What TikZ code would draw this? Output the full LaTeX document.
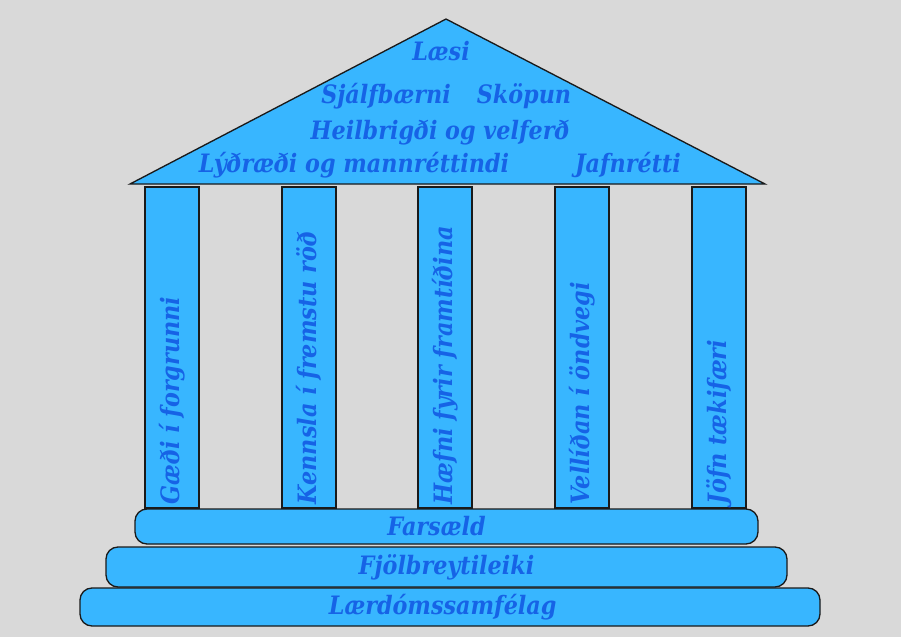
\documentclass[tikz,border=0pt]{standalone}
\usepackage{fontspec}
\setmainfont{DejaVu Serif}[FakeStretch=0.88]
\definecolor{bgc}{HTML}{D9D9D9}
\definecolor{fillc}{HTML}{38B6FF}
\definecolor{txtc}{HTML}{1663E6}
\definecolor{linec}{HTML}{1A1A1A}
\begin{document}
\begin{tikzpicture}[x=0.75pt,y=-0.75pt,
  every node/.style={font=\fontsize{19}{22}\selectfont\bfseries\itshape, text=txtc},
  roof/.style={draw=linec, line width=1pt, fill=fillc, line join=miter},
  col/.style={draw=linec, line width=1pt, fill=fillc, minimum width=40.5pt, minimum height=240.75pt, inner sep=0pt},
  coltext/.style={rotate=90, anchor=west, inner sep=0pt},
  stepbox/.style={draw=linec, line width=1pt, fill=fillc, rounded corners=9pt, inner sep=0pt},
  rooftext/.style={anchor=base, inner sep=0pt}]
\fill[bgc] (0,0) rectangle (901,637);
\useasboundingbox (0,0) rectangle (901,637);
% roof
\coordinate (apex) at (446,19);
\coordinate (bl) at (130,184);
\coordinate (br) at (765,184);
\draw[roof] (apex) -- (br) -- (bl) -- cycle;
\node[rooftext] (t1) at (441,60) {Læsi};
\node[rooftext] (t2) at (386,103) {Sjálfbærni};
\node[rooftext] (t3) at (524,103) {Sköpun};
\node[rooftext] (t4) at (440,139) {Heilbrigði og velferð};
\node[rooftext] (t5) at (354,172) {Lýðræði og mannréttindi};
\node[rooftext] (t6) at (628,172) {Jafnrétti};
% columns
\node[col] (c1) at (172,347.5) {};
\node[col] (c2) at (309,347.5) {};
\node[col] (c3) at (445,347.5) {};
\node[col] (c4) at (582,347.5) {};
\node[col] (c5) at (719,347.5) {};
\node[coltext] (ct1) at ([yshift=3pt]c1.south) {Gæði í forgrunni};
\node[coltext] (ct2) at ([yshift=3pt]c2.south) {Kennsla í fremstu röð};
\node[coltext] (ct3) at ([yshift=3pt]c3.south) {Hæfni fyrir framtíðina};
\node[coltext] (ct4) at ([yshift=3pt]c4.south) {Vellíðan í öndvegi};
\node[coltext] (ct5) at ([yshift=3pt]c5.south) {Jöfn tækifæri};
% steps
\node[stepbox, minimum width=467.25pt, minimum height=26.25pt] (s1) at (446.5,526.5) {Farsæld\hspace*{15pt}};
\node[stepbox, minimum width=510.75pt, minimum height=30pt] (s2) at (446.5,567) {Fjölbreytileiki};
\node[stepbox, minimum width=555pt, minimum height=28.5pt] (s3) at (450,607) {Lærdómssamfélag\hspace*{11pt}};
\end{tikzpicture}
\end{document}
